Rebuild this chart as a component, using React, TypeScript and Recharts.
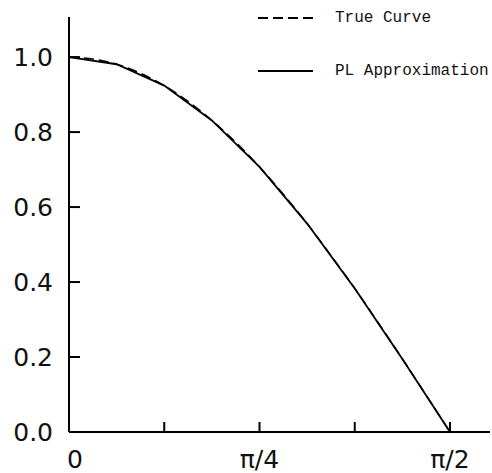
import { LineChart, Line, XAxis, YAxis } from 'recharts';

// angle in radians (steps of pi/32) and the values
const angles = [0, 0.0982, 0.1963, 0.2945, 0.3927, 0.4909, 0.589, 0.6872, 0.7854, 0.8836, 0.9817, 1.0799, 1.1781, 1.2763, 1.3744, 1.4726, 1.5708];
const trueCurve = [1.0, 0.995, 0.981, 0.957, 0.924, 0.882, 0.831, 0.773, 0.707, 0.634, 0.556, 0.471, 0.383, 0.29, 0.195, 0.098, 0.0];
// PL approximation only has breakpoints every pi/16
const plApprox = [1.0, null, 0.981, null, 0.924, null, 0.831, null, 0.707, null, 0.556, null, 0.383, null, 0.195, null, 0.0];

const xTicks = [0, 0.3927, 0.7854, 1.1781, 1.5708];
const xTickLabels = ['0', '', 'π/4', '', 'π/2'];
const yTicks = [0, 0.2, 0.4, 0.6, 0.8, 1.0];

const data = angles.map((a, i) => ({ x: a, trueCurve: trueCurve[i], pl: plApprox[i] }));

const tickFont = '"DejaVu Sans", sans-serif';

const YTick = ({ x, y, payload }: any) => (
  <g>
    <line x1={x} x2={x + 11} y1={y} y2={y} stroke="#000" strokeWidth={2} />
    <text x={x - 16} y={y + 9} textAnchor="end" fontSize={25} fontFamily={tickFont} fill="#111">
      {payload.value.toFixed(1)}
    </text>
  </g>
);

const XTick = ({ x, y, payload, index }: any) => (
  <g>
    {index > 0 && <line x1={x} x2={x} y1={y} y2={y - 10} stroke="#000" strokeWidth={2} />}
    <text x={index === 0 ? x + 6 : x} y={y + 36} textAnchor="middle" fontSize={25} fontFamily={tickFont} fill="#111">
      {xTickLabels[index]}
    </text>
  </g>
);

const legendItems = [
  { label: 'True Curve', dash: '10 5', top: 8 },
  { label: 'PL Approximation', dash: undefined, top: 61 },
];

export default function App() {
  return (
    <div style={{ position: 'absolute', left: 0, top: 0, width: 492, height: 473, background: '#fff' }}>
      <LineChart width={492} height={473} data={data} margin={{ top: 17, right: 2, bottom: 0, left: 0 }}>
        <XAxis
          dataKey="x"
          type="number"
          domain={[0, 1.7357]}
          allowDataOverflow
          ticks={xTicks}
          interval={0}
          height={41}
          tickSize={0}
          tickMargin={0}
          tickLine={false}
          axisLine={{ stroke: '#000', strokeWidth: 2 }}
          tick={<XTick />}
        />
        <YAxis
          type="number"
          domain={[0, 1.107]}
          allowDataOverflow
          ticks={yTicks}
          interval={0}
          width={69}
          tickSize={0}
          tickMargin={0}
          tickLine={false}
          axisLine={{ stroke: '#000', strokeWidth: 2 }}
          tick={<YTick />}
        />
        <Line dataKey="trueCurve" type="monotone" stroke="#000" strokeWidth={1.5} strokeDasharray="10 5" dot={false} isAnimationActive={false} />
        <Line dataKey="pl" type="linear" stroke="#000" strokeWidth={1.8} connectNulls dot={false} isAnimationActive={false} />
      </LineChart>
      {legendItems.map((item, i) => (
        <div
          key={i}
          style={{
            position: 'absolute',
            left: 250,
            top: item.top,
            display: 'flex',
            alignItems: 'center',
            height: 20,
            fontFamily: '"Liberation Mono", monospace',
            fontSize: 16,
            color: '#111',
          }}
        >
          <svg width={85} height={10}>
            <line x1={8} x2={63} y1={5} y2={5} stroke="#000" strokeWidth={2} strokeDasharray={item.dash} />
          </svg>
          <span>{item.label}</span>
        </div>
      ))}
    </div>
  );
}
